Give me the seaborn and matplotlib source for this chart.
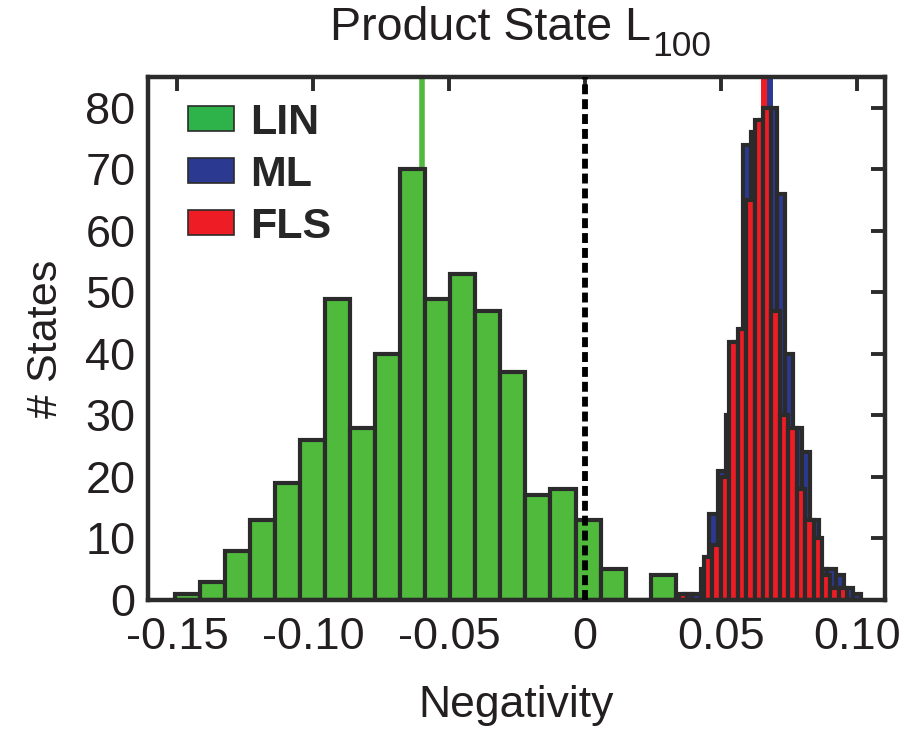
import numpy as np
import pandas as pd
import matplotlib
matplotlib.use("Agg")
import matplotlib.pyplot as plt
from matplotlib.patches import Patch
import seaborn as sns

# ---------------- data ----------------
lin_start = -0.1507
lin_width = 0.0092
lin_counts = [1, 3, 8, 13, 19, 26, 49, 28, 40, 70, 49, 53, 47, 37, 17, 18, 13, 5, 0, 4]

fls_start = 0.03445
fls_width = 0.0031
fls_counts = [1, 0, 0, 7, 9, 20, 42, 44, 65, 78, 80, 47, 30, 28, 18, 13, 10, 4, 2, 2, 0]

ml_start = 0.03635
ml_width = 0.0031
ml_counts = [1, 1, 5, 14, 21, 30, 42, 74, 76, 78, 80, 66, 40, 28, 24, 13, 5, 5, 4, 2, 1]

lin_mean = -0.0599
ml_mean = 0.0679
fls_mean = 0.0657

x_ticks = [-0.15, -0.10, -0.05, 0.0, 0.05, 0.10]
x_tick_labels = ["-0.15", "-0.10", "-0.05", "0", "0.05", "0.10"]
y_ticks = [0, 10, 20, 30, 40, 50, 60, 70, 80]
series_names = ["LIN", "ML", "FLS"]

# ---------------- style ----------------
sns.set_theme(style="white")
plt.rcParams["font.family"] = ["Liberation Sans", "DejaVu Sans"]

GREEN = "#50BA3C"
GREEN_LEG = "#2DB34A"
BLUE = "#2B3990"
RED = "#EE1C25"
EDGE = "#2B2B2B"
TEXT = "#231F20"

fig = plt.figure(figsize=(9.06, 7.35), dpi=100)
ax = fig.add_axes([148 / 906, 135 / 735, (885 - 148) / 906, (600 - 77) / 735])


def hist(start, width, counts, color):
    n = len(counts)
    centers = [start + width * (i + 0.5) for i in range(n)]
    df = pd.DataFrame({"x": centers, "w": [float(c) for c in counts]})
    sns.histplot(data=df, x="x", weights="w", bins=n,
                 binrange=(start, start + n * width), color=color,
                 edgecolor=EDGE, linewidth=3.0, alpha=1, ax=ax, zorder=2)


# mean lines (behind bars)
ax.axvline(lin_mean, color=GREEN, lw=4, zorder=1)
ax.axvline(fls_mean, color=RED, lw=4.3, zorder=1)
ax.axvline(ml_mean, color=BLUE, lw=4.3, zorder=1)

hist(lin_start, lin_width, lin_counts, GREEN)
hist(ml_start, ml_width, ml_counts, BLUE)
hist(fls_start, fls_width, fls_counts, RED)

ax.axvline(0, color="black", lw=4.2, ls=(0, (1.7, 0.85)), zorder=5)

ax.set_xlim(-0.1607, 0.1103)
ax.set_ylim(0, 85)
ax.set_xticks(x_ticks)
ax.set_xticklabels(x_tick_labels)
ax.set_yticks(y_ticks)
ax.tick_params(direction="in", length=10, width=2.8, top=True, right=True,
               labelsize=32.5, colors=EDGE, labelcolor=TEXT)
ax.tick_params(axis="x", pad=12)
ax.tick_params(axis="y", pad=9)
for s in ax.spines.values():
    s.set_linewidth(3.2)
    s.set_color(EDGE)
    s.set_visible(True)

ax.set_xlabel("Negativity", fontsize=32, color=TEXT, labelpad=20)
ax.set_ylabel("# States", fontsize=31, color=TEXT, labelpad=14)

# title with large subscript
t = fig.text(330 / 906, 1 - 40 / 735, "Product State L", fontsize=33.5,
             color=TEXT, ha="left", va="baseline")
ax.annotate("100", xy=(1, 0), xycoords=t, xytext=(1.0, -4), textcoords="offset points",
            fontsize=25.5, color=TEXT, ha="left", va="baseline")

handles = [Patch(facecolor=c, edgecolor=EDGE, linewidth=1.2)
           for c in (GREEN_LEG, BLUE, RED)]
ax.legend(handles, series_names, loc="upper left", frameon=False,
          prop={"weight": "bold", "size": 31}, handlelength=1.07, handleheight=0.5,
          labelspacing=0.28, handletextpad=0.37, borderaxespad=0.2,
          bbox_to_anchor=(0.019, 1.0))

fig.savefig("out.png", dpi=100)
